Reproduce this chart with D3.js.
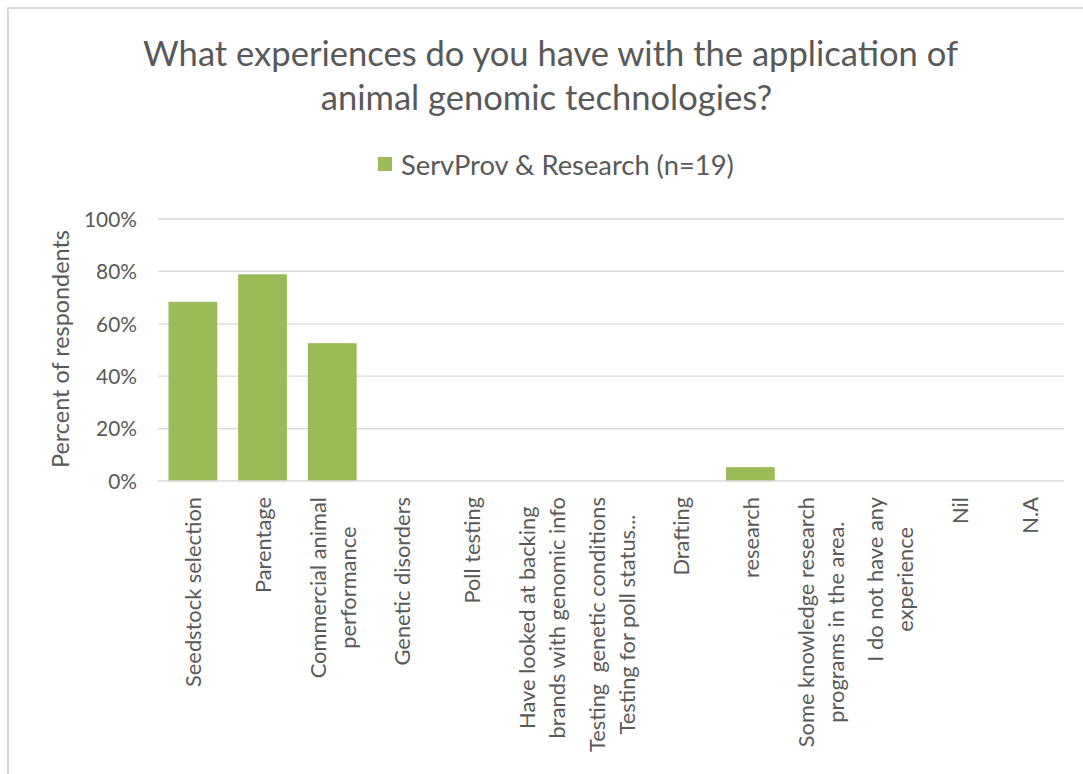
<!DOCTYPE html>
<html>
<head>
<meta charset="utf-8">
<script src="https://cdn.jsdelivr.net/npm/d3@7"></script>
<style>
  html, body { margin: 0; padding: 0; background: #ffffff; }
  svg { display: block; }
  text { font-family: Lato, "Open Sans", sans-serif; fill: #595959; white-space: pre; }
</style>
</head>
<body>
<svg id="chart" width="1083" height="774"></svg>
<script>
// Survey question and series
const titleLines = [
  "What experiences do you have with the application of",
  "animal genomic technologies?"
];
const seriesName = "ServProv & Research (n=19)";
const yAxisTitle = "Percent of respondents";

// Category labels, one array entry per wrapped line
const categories = [
  ["Seedstock selection"],
  ["Parentage"],
  ["Commercial animal", "performance"],
  ["Genetic disorders"],
  ["Poll testing"],
  ["Have looked at backing", "brands with genomic info"],
  ["Testing  genetic conditions", "Testing for poll status..."],
  ["Drafting"],
  ["research"],
  ["Some knowledge research", "programs in the area."],
  ["I do not have any", "experience"],
  ["Nil"],
  ["N.A"]
];

// Share of respondents (n = 19)
const values = [0.684, 0.789, 0.526, 0, 0, 0, 0, 0, 0.053, 0, 0, 0, 0];

const yTicks = [0, 0.2, 0.4, 0.6, 0.8, 1.0];

const svg = d3.select("#chart");
const W = 1083, H = 774;

const plot = { left: 158, right: 1064, top: 219, bottom: 481 };

// Outer chart frame (extends beyond the visible window on right/bottom)
svg.append("rect")
  .attr("x", 8).attr("y", 8)
  .attr("width", W + 20).attr("height", H + 20)
  .attr("fill", "#ffffff")
  .attr("stroke", "#d9d9d9")
  .attr("stroke-width", 2);

// Scale text so it spans a given width
function fitWidth(sel, target) {
  const node = sel.node();
  const fs = parseFloat(sel.attr("font-size"));
  const w = node.getComputedTextLength();
  if (w > 0) sel.attr("font-size", (fs * target / w).toFixed(2));
  return sel;
}

// Title
const t1 = svg.append("text")
  .attr("x", 550.5).attr("y", 52)
  .attr("text-anchor", "middle").attr("dominant-baseline", "central")
  .attr("font-size", 30)
  .text(titleLines[0]);
fitWidth(t1, 815);
const titleSize = +t1.attr("font-size");
svg.append("text")
  .attr("x", 546.5).attr("y", 96)
  .attr("text-anchor", "middle").attr("dominant-baseline", "central")
  .attr("font-size", titleSize)
  .text(titleLines[1]);

// Legend
svg.append("rect")
  .attr("x", 378).attr("y", 157)
  .attr("width", 14).attr("height", 14)
  .attr("fill", "#9bbb59");
const lg = svg.append("text")
  .attr("x", 401).attr("y", 164)
  .attr("dominant-baseline", "central")
  .attr("font-size", 22)
  .text(seriesName);
fitWidth(lg, 333);

// Scales
const x = d3.scaleBand()
  .domain(d3.range(categories.length))
  .range([plot.left, plot.right])
  .paddingInner(0.3)
  .paddingOuter(0.15);

const y = d3.scaleLinear()
  .domain([0, 1])
  .range([plot.bottom, plot.top]);

// Gridlines
svg.append("g")
  .selectAll("line")
  .data(yTicks.filter(d => d > 0))
  .join("line")
  .attr("x1", plot.left).attr("x2", plot.right)
  .attr("y1", d => y(d)).attr("y2", d => y(d))
  .attr("stroke", "#d9d9d9")
  .attr("stroke-width", 1.3);

// Y axis tick labels
const yAxis = d3.axisLeft(y)
  .tickValues(yTicks)
  .tickFormat(d3.format(".0%"))
  .tickSize(0)
  .tickPadding(0);
const yg = svg.append("g")
  .attr("transform", `translate(${plot.left - 21},0)`)
  .call(yAxis);
yg.select(".domain").remove();
yg.selectAll("text")
  .attr("font-family", "Lato, 'Open Sans', sans-serif")
  .attr("font-size", 20)
  .attr("fill", "#595959")
  .attr("dy", "0.35em");
// size tick labels to the "100%" width
const tickNode = yg.selectAll("text").filter(d => d === 1);
const tw = tickNode.node().getComputedTextLength();
const tickSize = 20 * 53 / tw;
yg.selectAll("text").attr("font-size", tickSize.toFixed(2));

// Y axis title
const yt = svg.append("text")
  .attr("transform", `translate(60,349) rotate(-90)`)
  .attr("text-anchor", "middle")
  .attr("dominant-baseline", "central")
  .attr("font-size", 22)
  .text(yAxisTitle);
fitWidth(yt, 238);

// Bars
svg.append("g")
  .selectAll("rect")
  .data(values)
  .join("rect")
  .attr("x", (d, i) => x(i))
  .attr("width", x.bandwidth())
  .attr("y", d => y(d))
  .attr("height", d => y(0) - y(d))
  .attr("fill", "#9bbb59");

// Category axis line
svg.append("line")
  .attr("x1", plot.left).attr("x2", plot.right)
  .attr("y1", y(0)).attr("y2", y(0))
  .attr("stroke", "#d9d9d9")
  .attr("stroke-width", 1.5);

// Category labels: rotated, top-anchored, wrapped lines centred on each other
const probe = svg.append("text").attr("font-size", 20).text(categories[0][0]);
const catSize = 20 * 190 / probe.node().getComputedTextLength();
probe.remove();
const lineH = 30;
const labelTop = 497;

categories.forEach((lines, i) => {
  const cx = x(i) + x.bandwidth() / 2;
  const g = svg.append("g")
    .attr("transform", `translate(${cx},${labelTop}) rotate(-90)`);
  const texts = lines.map((ln, j) =>
    g.append("text")
      .attr("font-size", catSize.toFixed(2))
      .attr("dominant-baseline", "central")
      .attr("text-anchor", "middle")
      .attr("y", (j - (lines.length - 1) / 2) * lineH)
      .text(ln)
  );
  const maxW = d3.max(texts, t => t.node().getComputedTextLength());
  texts.forEach(t => t.attr("x", -maxW / 2));
});
</script>
</body>
</html>
